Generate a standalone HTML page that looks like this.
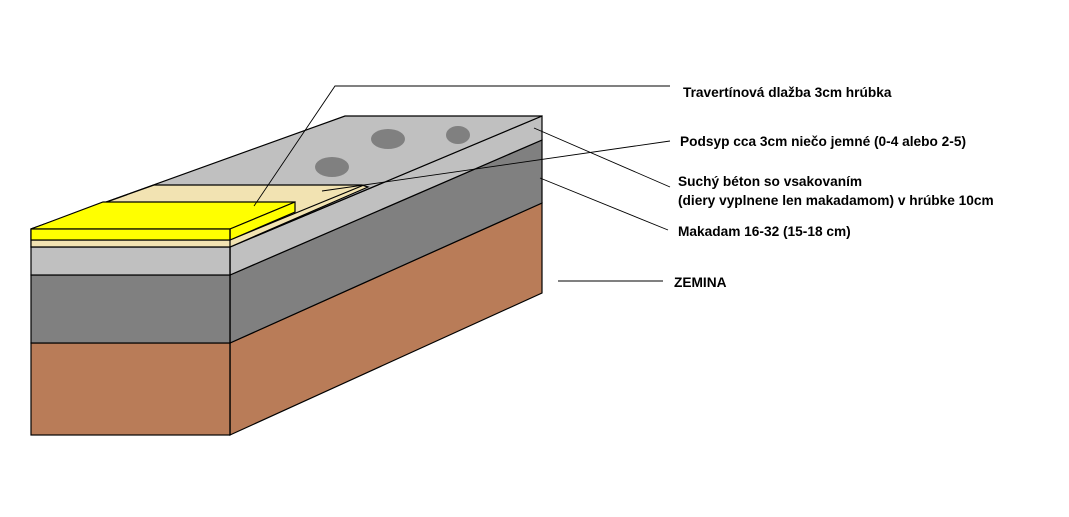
<!DOCTYPE html>
<html><head><meta charset="utf-8"><style>
html,body{margin:0;padding:0;background:#fff;}
svg{display:block}
text{font-family:"Liberation Sans",sans-serif;font-weight:bold;font-size:13.7px;fill:#000}
</style></head><body>
<svg width="1069" height="517" viewBox="0 0 1069 517" xmlns="http://www.w3.org/2000/svg">
<g stroke="#000" stroke-width="1.2" stroke-linejoin="miter">
<polygon points="230,343 542,203 542,293 230,435" fill="#b97c58"/>
<polygon points="230,275 542,140 542,203 230,343" fill="#808080"/>
<polygon points="230,247 542,116 542,140 230,275" fill="#c0c0c0"/>
<polygon points="31,229 345,116 542,116 230,247 31,247" fill="#c0c0c0"/>
<rect x="31" y="343" width="199" height="92" fill="#b97c58"/>
<rect x="31" y="275" width="199" height="68" fill="#808080"/>
<rect x="31" y="247" width="199" height="28" fill="#c0c0c0"/>
</g>
<g fill="#808080">
<ellipse cx="388" cy="139" rx="17" ry="10"/>
<ellipse cx="458" cy="135" rx="12" ry="9"/>
<ellipse cx="332" cy="167" rx="17" ry="10"/>
</g>
<g stroke="#000" stroke-width="1.2">
<polygon points="31,229 154,185 362,185 368,187 230,247 31,247" fill="#f2e3b2"/>
<line x1="230" y1="240" x2="364" y2="185" fill="none"/>
<line x1="31" y1="240" x2="230" y2="240"/>
<polygon points="31,229 103,202 295,202 230,229" fill="#ffff00"/>
<polygon points="230,229 295,202 295,212 230,240" fill="#ffff00"/>
<rect x="31" y="229" width="199" height="11" fill="#ffff00"/>
<line x1="230" y1="229" x2="230" y2="435"/>
</g>
<g stroke="#000" stroke-width="0.9" fill="none">
<polyline points="254,206 335,86 670,86"/>
<polyline points="670,141 357,186 322,191"/>
<line x1="534" y1="128" x2="670" y2="187"/>
<line x1="540" y1="178" x2="668" y2="230"/>
<line x1="558" y1="281" x2="663" y2="281"/>
</g>
<text x="683" y="97">Travertínová dlažba 3cm hrúbka</text>
<text x="680" y="146">Podsyp cca 3cm niečo jemné (0-4 alebo 2-5)</text>
<text x="678" y="186">Suchý béton so vsakovaním</text>
<text x="678" y="205">(diery vyplnene len makadamom) v hrúbke 10cm</text>
<text x="678" y="236">Makadam 16-32 (15-18 cm)</text>
<text x="674" y="287">ZEMINA</text>
</svg>
</body></html>
